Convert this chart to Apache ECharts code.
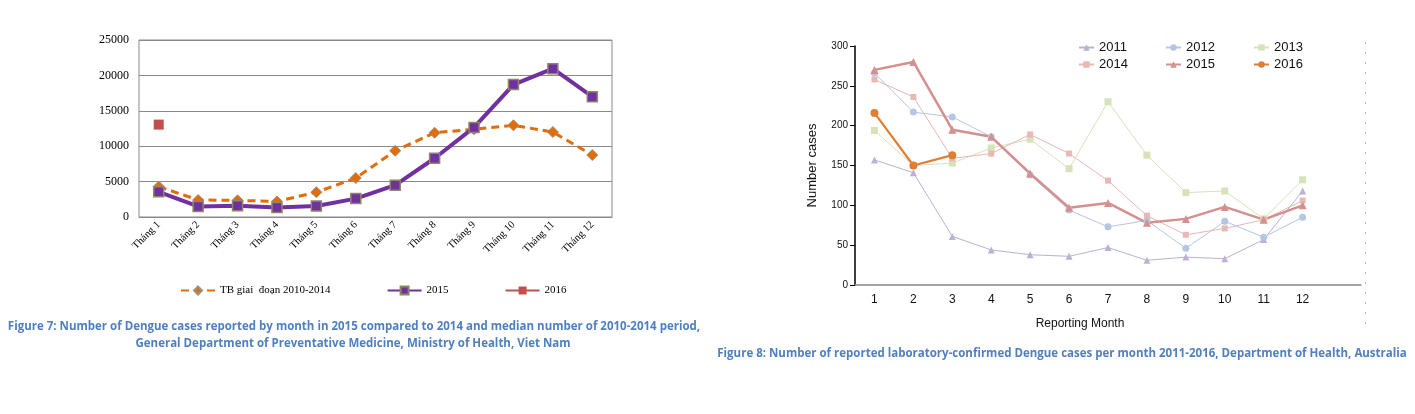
<!DOCTYPE html>
<html>
<head>
<meta charset="utf-8">
<title>Dengue cases</title>
<script src="https://cdn.jsdelivr.net/npm/echarts@6/dist/echarts.min.js"></script>
<style>
  html, body { margin: 0; padding: 0; background: #fff; }
  #chart { width: 1415px; height: 414px; }
</style>
</head>
<body>
<div id="chart"></div>
<script>
// Viet Nam, cases per month (Figure 7)
var vnMonths = ['Tháng 1', 'Tháng 2', 'Tháng 3', 'Tháng 4', 'Tháng 5', 'Tháng 6',
                'Tháng 7', 'Tháng 8', 'Tháng 9', 'Tháng 10', 'Tháng 11', 'Tháng 12'];
var vnAvg  = [4300, 2400, 2350, 2200, 3500, 5500, 9350, 11900, 12400, 12950, 12000, 8750];
var vn2015 = [3550, 1500, 1600, 1350, 1550, 2600, 4500, 8300, 12650, 18700, 20950, 17000];
var vn2016 = [13050, null, null, null, null, null, null, null, null, null, null, null];
var vnTicks = [0, 5000, 10000, 15000, 20000, 25000];

// Australia, lab-confirmed cases per month (Figure 8)
var auMonths = ['1', '2', '3', '4', '5', '6', '7', '8', '9', '10', '11', '12', ''];
var au2011 = [157, 141, 61, 44, 38, 36, 47, 31, 35, 33, 57, 118];
var au2012 = [266, 217, 211, 186, 138, 94, 73, 81, 46, 80, 60, 85];
var au2013 = [194, 150, 153, 172, 183, 146, 230, 163, 116, 118, 83, 132];
var au2014 = [258, 236, 159, 165, 189, 165, 131, 87, 63, 71, 82, 106];
var au2015 = [270, 280, 195, 186, 140, 97, 103, 78, 83, 98, 82, 100];
var au2016 = [216, 150, 163];
var auTicks = [0, 50, 100, 150, 200, 250, 300];

var serif = '"Liberation Serif", "DejaVu Serif", serif';
var sans = 'Arial, "Liberation Sans", sans-serif';
var capFont = 'bold 12.5px "Open Sans", "Noto Sans", sans-serif';
var capColor = '#4f7fbf';

var chart = echarts.init(document.getElementById('chart'));

// strip the "AU " prefix that keeps legend names apart
function auName(name) { return name.replace('AU ', ''); }

function auLine(name, data, color, symbol, size, width) {
    return {
        name: name, type: 'line', xAxisIndex: 1, yAxisIndex: 1,
        data: data, symbol: symbol, symbolSize: size,
        lineStyle: { color: color, width: width },
        itemStyle: { color: color },
        emphasis: { disabled: true }
    };
}

// caption text, squeezed a bit to the narrow Calibri width
function caption(text, x, y) {
    return {
        type: 'text', x: x, y: y, scaleX: 0.92,
        style: {
            text: text, x: 0, y: 0, align: 'center', verticalAlign: 'middle',
            textAlign: 'center', textVerticalAlign: 'middle', font: capFont, fill: capColor
        }
    };
}

function auLegend(left, names) {
    return {
        orient: 'vertical', left: left, top: 41, padding: 0, itemWidth: 15, itemHeight: 8, itemGap: 4,
        data: names, formatter: auName, selectedMode: false,
        textStyle: { color: '#111', fontFamily: sans, fontSize: 13 }
    };
}

var option = {
    animation: false,
    backgroundColor: '#fff',
    grid: [
        { left: 139, top: 40, width: 473, height: 177, show: true, borderColor: '#8a8a8a', borderWidth: 1 },
        { left: 855, top: 46, width: 506, height: 239 }
    ],
    xAxis: [
        {
            type: 'category', gridIndex: 0, data: vnMonths, boundaryGap: true,
            axisLine: { lineStyle: { color: '#8a8a8a' } },
            axisTick: { show: false },
            axisLabel: { rotate: 45, interval: 0, margin: 6, color: '#000', fontFamily: serif, fontSize: 10.5 }
        },
        {
            type: 'category', gridIndex: 1, data: auMonths, boundaryGap: true,
            axisLine: { lineStyle: { color: '#868686', width: 1.5 } },
            axisTick: { inside: true, length: 4, interval: 0, lineStyle: { color: '#868686' } },
            axisLabel: { interval: 0, margin: 9, color: '#111', fontFamily: sans, fontSize: 12 }
        }
    ],
    yAxis: [
        {
            type: 'value', gridIndex: 0, min: vnTicks[0], max: vnTicks[vnTicks.length - 1], interval: 5000,
            axisLine: { show: false }, axisTick: { show: false },
            splitLine: { lineStyle: { color: '#8a8a8a' } },
            axisLabel: {
                margin: 10, color: '#000', fontFamily: serif, fontSize: 12,
                formatter: function (v) { return String(v); }
            }
        },
        {
            type: 'value', gridIndex: 1, min: auTicks[0], max: auTicks[auTicks.length - 1], interval: 50,
            name: 'Number cases', nameLocation: 'middle', nameGap: 36,
            nameTextStyle: { color: '#111', fontFamily: sans, fontSize: 13 },
            axisLine: { show: true, lineStyle: { color: '#000', width: 1.5 } },
            axisTick: { show: true, length: 5, lineStyle: { color: '#000' } },
            splitLine: { show: false },
            axisLabel: { margin: 7, color: '#111', fontFamily: sans, fontSize: 10 }
        }
    ],
    legend: [
        {
            data: ['TB giai  đoạn 2010-2014', '2015', '2016'],
            left: 180, top: 285, padding: 0, itemWidth: 34, itemHeight: 10, itemGap: 56,
            textStyle: { color: '#000', fontFamily: serif, fontSize: 11 },
            selectedMode: false
        },
        auLegend(1078, ['AU 2011', 'AU 2014']),
        auLegend(1165, ['AU 2012', 'AU 2015']),
        auLegend(1253, ['AU 2013', 'AU 2016'])
    ],
    graphic: [
        { type: 'text', style: { text: 'Reporting Month', x: 1080, y: 324, align: 'center', verticalAlign: 'middle', textAlign: 'center', textVerticalAlign: 'middle', font: '12px ' + sans, fill: '#111' } },
        { type: 'line', shape: { x1: 1365.5, y1: 42, x2: 1365.5, y2: 324 }, style: { stroke: '#b8b8b8', lineWidth: 1, lineDash: [2, 8] } },
        caption('Figure 7: Number of Dengue cases reported by month in 2015 compared to 2014 and median number of 2010-2014 period,', 354, 326),
        caption('General Department of Preventative Medicine, Ministry of Health, Viet Nam', 353, 343),
        caption('Figure 8: Number of reported laboratory-confirmed Dengue cases per month 2011-2016, Department of Health, Australia', 1062, 353)
    ],
    series: [
        {
            name: 'TB giai  đoạn 2010-2014', type: 'line', xAxisIndex: 0, yAxisIndex: 0,
            data: vnAvg, symbol: 'diamond', symbolSize: 11,
            lineStyle: { color: '#e36c09', width: 3, type: [8, 5] },
            itemStyle: { color: '#e36c09', borderColor: '#9c917c', borderWidth: 1 },
            emphasis: { disabled: true }
        },
        {
            name: '2015', type: 'line', xAxisIndex: 0, yAxisIndex: 0,
            data: vn2015, symbol: 'rect', symbolSize: 10,
            lineStyle: { color: '#7030a0', width: 4 },
            itemStyle: { color: '#7030a0', borderColor: '#8e8668', borderWidth: 1.5 },
            emphasis: { disabled: true }
        },
        {
            name: '2016', type: 'line', xAxisIndex: 0, yAxisIndex: 0,
            data: vn2016, symbol: 'rect', symbolSize: 10,
            lineStyle: { color: '#c0504d', width: 3 },
            itemStyle: { color: '#c0504d' },
            emphasis: { disabled: true }
        },
        auLine('AU 2011', au2011, '#bcb0d4', 'triangle', 7, 1),
        auLine('AU 2012', au2012, '#b4c7e2', 'circle', 7, 1),
        auLine('AU 2013', au2013, '#d6e3b9', 'rect', 7, 1),
        auLine('AU 2014', au2014, '#e8b7b6', 'rect', 6, 1),
        auLine('AU 2015', au2015, '#d48f8e', 'triangle', 8, 2.5),
        auLine('AU 2016', au2016, '#df7f33', 'circle', 8, 2.2)
    ]
};

chart.setOption(option);
</script>
</body>
</html>
